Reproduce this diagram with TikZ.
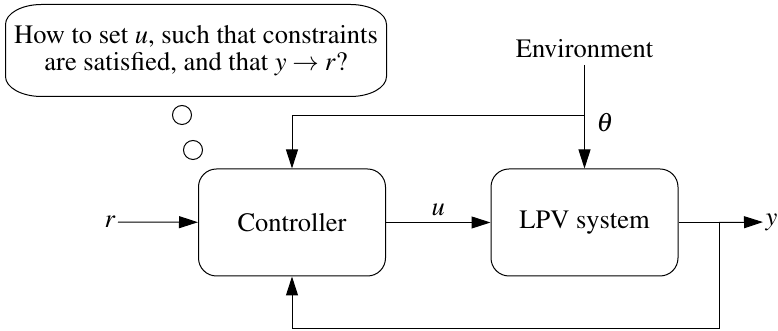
\documentclass[tikz,border=0pt]{standalone}
\usepackage[T1]{fontenc}
\usepackage{mathptmx}
\usetikzlibrary{arrows.meta}

\begin{document}
\begin{tikzpicture}[
	x=0.5pt, y=0.5pt,
	every node/.style={font=\fontsize{13.25}{13.5}\selectfont},
	block/.style={draw, rounded corners=9pt, minimum width=93.5pt, minimum height=53.5pt},
	bubble/.style={draw, circle, inner sep=0pt, minimum size=9.5pt},
	corner/.style={x radius=18pt, y radius=10pt},
	>={Triangle[length=9.5pt,width=6pt]},
	line width=0.5pt]
\useasboundingbox (0,0) rectangle (778,331);
% blocks
\node[block] (ctrl) at (292,108.5) {Controller};
\node[block] (lpv) at (584.5,108.5) {LPV system};
% signals
\node[anchor=east, inner sep=1pt] (ref) at (118,109) {$r$};
\node[anchor=west, inner sep=1pt] (out) at (763,109) {$y$};
\node (env) at (584.5,282.5) {Environment};
\node (theta) at (605,208) {$\theta$};
\coordinate (split) at (719,108.5);
\coordinate (fb) at (719,2);
\coordinate (tap) at (584.5,215);
% thought
\node[minimum width=190pt, minimum height=45.5pt, align=center] (thought) at (196,280.5)
	{How to set $u$, such that constraints\\ are satisfied, and that $y\rightarrow r$?};
\draw ([xshift=18pt]thought.north west) -- ([xshift=-18pt]thought.north east)
	arc[start angle=90, end angle=0, corner] -- ([yshift=10pt]thought.south east)
	arc[start angle=0, end angle=-90, corner] -- ([xshift=18pt]thought.south west)
	arc[start angle=270, end angle=180, corner] -- ([yshift=-10pt]thought.north west)
	arc[start angle=180, end angle=90, corner] -- cycle;
\node[bubble] (dot1) at (182,216) {};
\node[bubble] (dot2) at (193,181) {};
% connections
\draw[->] (ref) -- (ctrl);
\draw[->] (ctrl) -- node[above] {$u$} (lpv);
\draw (lpv) -- (split);
\draw[->] (split) -- (out);
\draw[->] (split) -- (fb) -| (ctrl.south);
\draw[->] (env) -- (lpv);
\draw[->] (tap) -| (ctrl.north);
\end{tikzpicture}
\end{document}
